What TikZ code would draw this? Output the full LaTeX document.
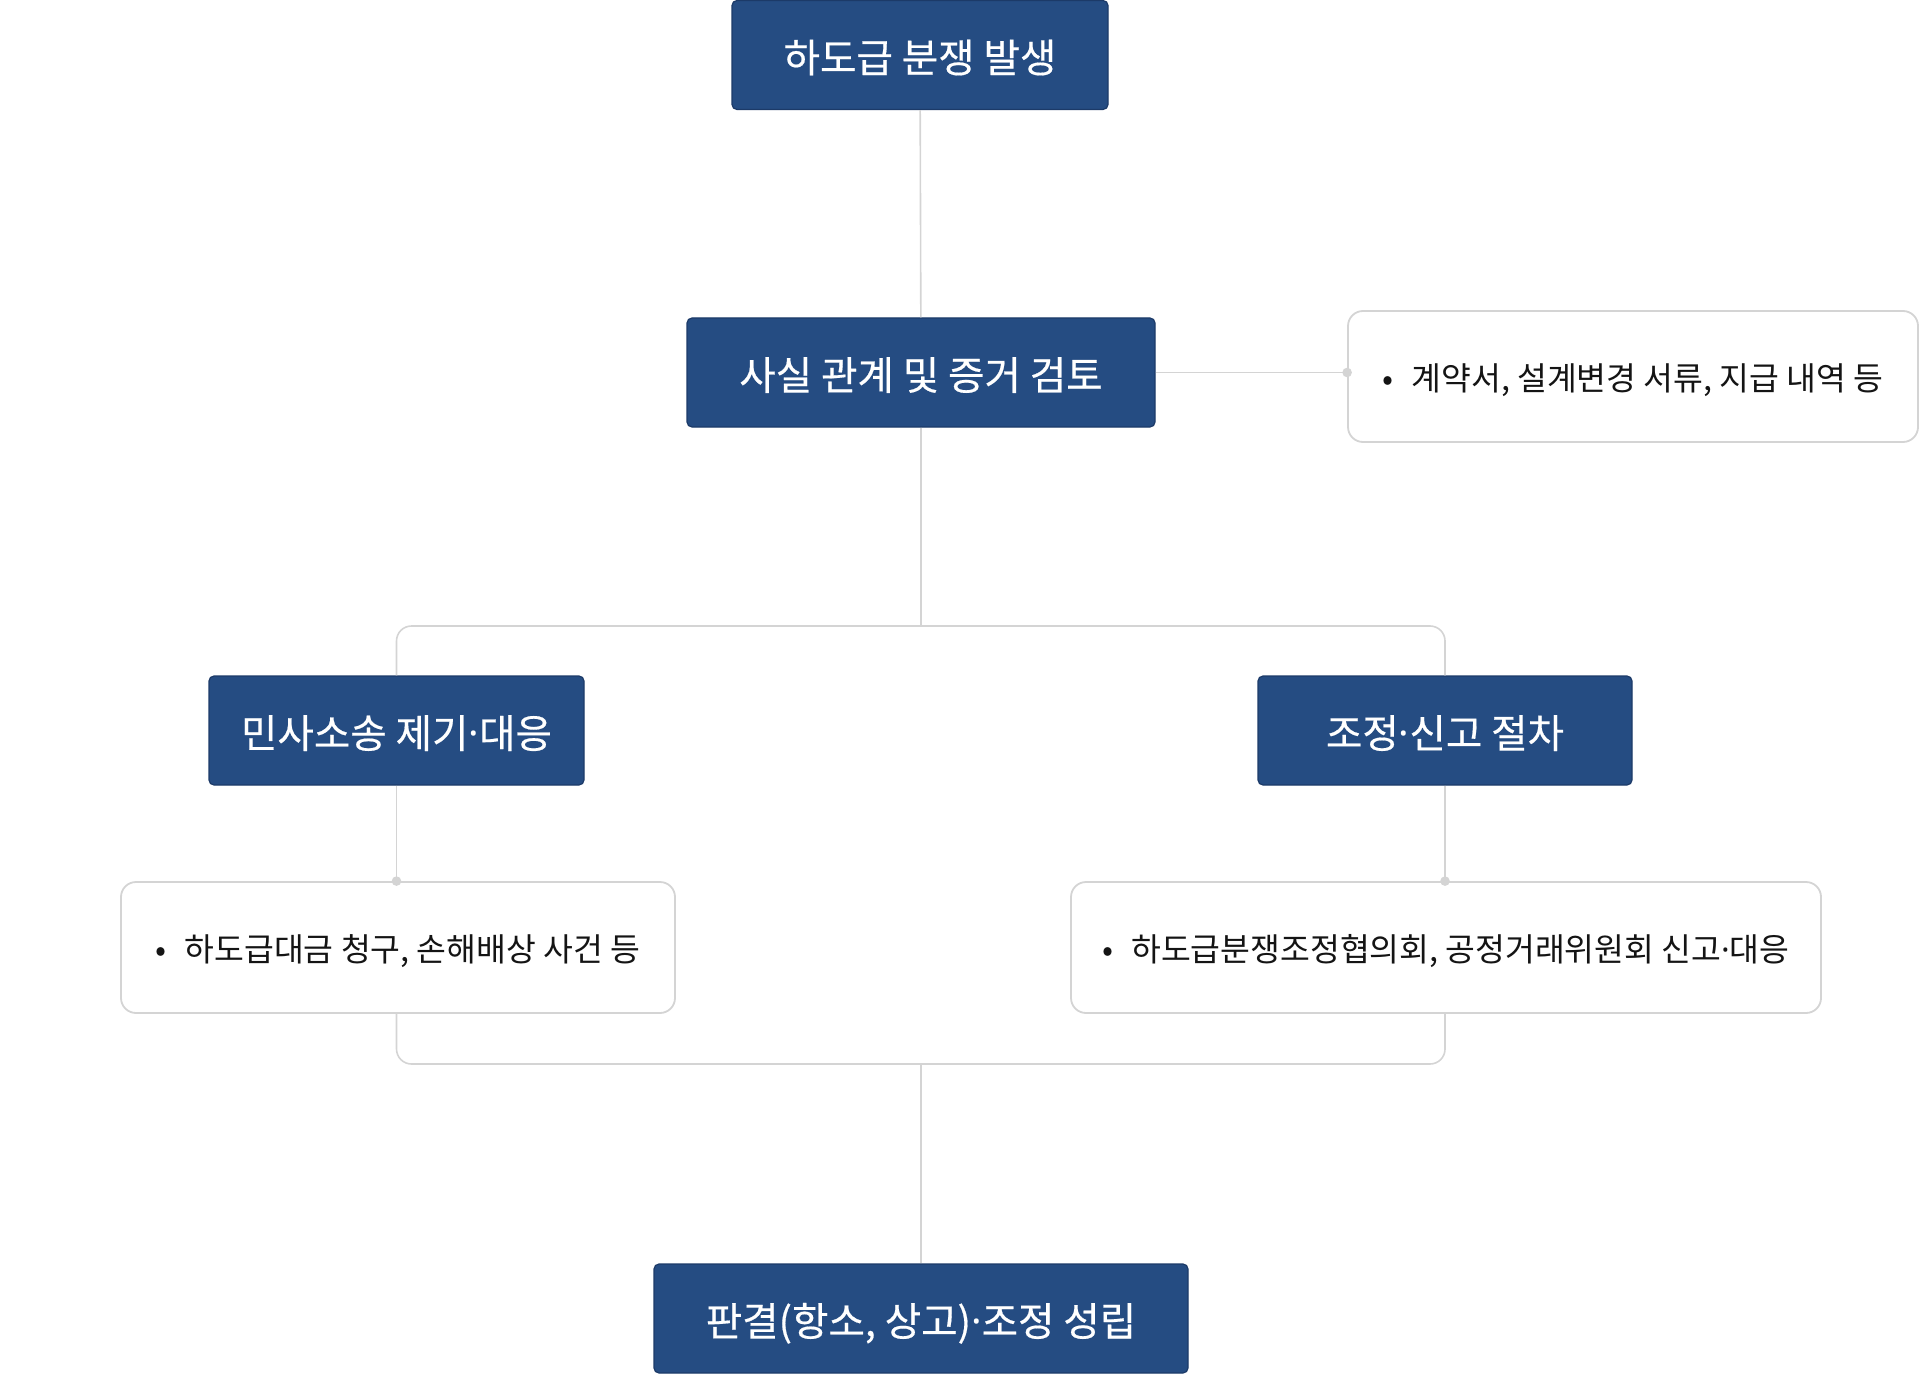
\documentclass[tikz,border=0pt]{standalone}
\usepackage{fontspec}
\setmainfont{Noto Sans CJK KR}
\newfontfamily\stagefont[FakeBold=0.45]{Noto Sans CJK KR}
\newfontfamily\dotfont{Noto Sans}
\usepackage{xcolor}
\usepackage{tikz}

\definecolor{stageblue}{RGB}{37,76,130}
\definecolor{stageedge}{RGB}{28,58,104}
\definecolor{linegray}{RGB}{212,212,212}
\definecolor{notetext}{RGB}{20,20,20}

\newcommand{\kdot}{{\dotfont ·}}
\newcommand{\kbullet}{•\hspace{0.55em}}

\begin{document}
\begin{tikzpicture}[x=0.5pt, y=-0.5pt,
        stagebox/.style={draw=stageedge, fill=stageblue, line width=0.6pt, rounded corners=2.5pt,
            text=white, minimum height=54.5pt, inner sep=0pt, text height=18.4pt, text depth=1pt,
            font=\stagefont\fontsize{19.8}{24}\selectfont},
        notebox/.style={draw=linegray, fill=white, line width=0.9pt, rounded corners=7.5pt,
            text=notetext, minimum height=65.5pt, inner sep=0pt, text height=15.3pt, text depth=1.1pt,
            font=\fontsize{16.2}{20}\selectfont},
        connector/.style={draw=linegray, line width=0.8pt},
        joint/.style={fill=linegray}]
        \useasboundingbox (0,0) rectangle (1920,1374);

        % Stages
        \node[stagebox, minimum width=188pt] (start) at (920,55) {하도급 분쟁 발생};
        \node[stagebox, minimum width=234pt] (review) at (921,372.5) {사실 관계 및 증거 검토};
        \node[stagebox, minimum width=187.5pt] (civil) at (396.5,730.5) {민사소송 제기\kdot 대응};
        \node[stagebox, minimum width=187pt] (mediate) at (1445,730.5) {조정\kdot 신고 절차};
        \node[stagebox, minimum width=267pt] (result) at (921,1318.5) {판결(항소, 상고)\kdot 조정 성립};

        % Notes
        \node[notebox, minimum width=285pt] (evidence) at (1633,376.5) {\kbullet 계약서, 설계변경 서류, 지급 내역 등};
        \node[notebox, minimum width=277pt] (civilnote) at (398,947.5) {\kbullet 하도급대금 청구, 손해배상 사건 등};
        \node[notebox, minimum width=375pt] (mediatenote) at (1446,947.5) {\kbullet 하도급분쟁조정협의회, 공정거래위원회 신고\kdot 대응};

        % Junctions
        \coordinate (split) at (921,626);
        \coordinate (merge) at (921,1064);

        % Connectors
        \draw[connector] (start) -- (review);
        \draw[connector] (review.east) -- (review.east -| evidence.west);
        \draw[connector] (review) -- (split);
        \draw[connector, rounded corners=7.5pt] (civil.north) |- (split) -| (mediate.north);
        \draw[connector] (civil.south) -- (civil.south |- civilnote.north);
        \draw[connector] (mediate.south) -- (mediate.south |- mediatenote.north);
        \draw[connector, rounded corners=7.5pt] (civil.south |- civilnote.south) |- (merge) -| (mediate.south |- mediatenote.south);
        \draw[connector] (merge) -- (result);

        % Dots
        \fill[joint] (review.east -| evidence.west) circle (2.4pt);
        \fill[joint] (civil.south |- civilnote.north) circle (2.4pt);
        \fill[joint] (mediate.south |- mediatenote.north) circle (2.4pt);
\end{tikzpicture}
\end{document}
